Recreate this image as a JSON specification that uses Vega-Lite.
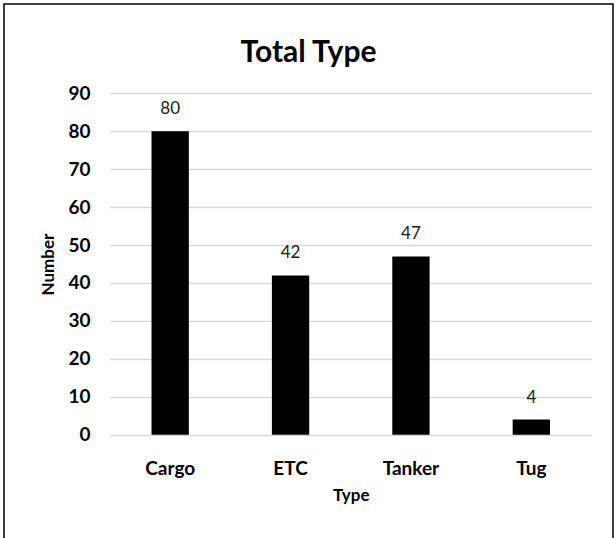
{
  "$schema": "https://vega.github.io/schema/vega-lite/v6.json",
  "autosize": "none",
  "width": 609,
  "height": 545,
  "padding": {"left": 4, "top": 4, "right": 3, "bottom": 0},
  "background": "white",
  "title": {
    "text": "Total Type",
    "font": "Lato",
    "fontSize": 30,
    "fontWeight": "bold",
    "color": "black",
    "baseline": "alphabetic",
    "anchor": "middle",
    "frame": "group",
    "offset": -88
  },
  "config": {"view": {"stroke": "black", "strokeWidth": 1.5}},
  "data": {
    "values": [
      {"Type": "Cargo", "Number": 80},
      {"Type": "ETC", "Number": 42},
      {"Type": "Tanker", "Number": 47},
      {"Type": "Tug", "Number": 4}
    ]
  },
  "encoding": {
    "x": {
      "field": "Type",
      "type": "nominal",
      "sort": null,
      "scale": {"range": [106, 587.5], "paddingInner": 0.69, "paddingOuter": 0.345},
      "axis": {
        "title": "Type",
        "offset": -114.3,
        "domain": false,
        "ticks": false,
        "grid": false,
        "labelAngle": 0,
        "labelFont": "Lato",
        "labelFontSize": 19,
        "labelFontWeight": "bold",
        "labelColor": "black",
        "labelBaseline": "alphabetic",
        "labelPadding": 40,
        "titleFont": "Lato",
        "titleFontSize": 17,
        "titleFontWeight": "bold",
        "titleColor": "black",
        "titleBaseline": "alphabetic",
        "titlePadding": 22
      }
    },
    "y": {
      "field": "Number",
      "type": "quantitative",
      "scale": {"domain": [0, 90], "range": [430.7, 89.3], "nice": false, "zero": true},
      "axis": {
        "title": "Number",
        "offset": -106,
        "domain": false,
        "ticks": false,
        "values": [0, 10, 20, 30, 40, 50, 60, 70, 80, 90],
        "grid": true,
        "gridColor": "#d9d9d9",
        "gridWidth": 1.3,
        "labelFont": "Lato",
        "labelFontSize": 19,
        "labelFontWeight": "bold",
        "labelColor": "black",
        "labelPadding": 20,
        "titleFont": "Lato",
        "titleFontSize": 17,
        "titleFontWeight": "bold",
        "titleColor": "black",
        "titlePadding": 10
      }
    }
  },
  "layer": [
    {"mark": {"type": "bar", "color": "black"}},
    {
      "mark": {
        "type": "text",
        "baseline": "alphabetic",
        "dy": -17,
        "font": "Lato",
        "fontSize": 17,
        "color": "#1a1a1a"
      },
      "encoding": {"text": {"field": "Number", "type": "quantitative"}}
    }
  ]
}
